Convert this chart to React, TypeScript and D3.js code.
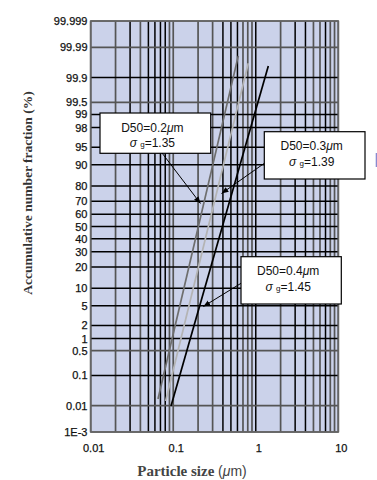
import React from "react";
import * as d3 from "d3";

// ---- data ----
const probTicks = [0.001, 0.01, 0.1, 0.5, 1, 2, 5, 10, 20, 30, 40, 50, 60, 70, 80, 90, 95, 98, 99, 99.5, 99.9, 99.99, 99.999];
const probTickLabels = ["1E-3", "0.01", "0.1", "0.5", "1", "2", "5", "10", "20", "30", "40", "50", "60", "70", "80", "90", "95", "98", "99", "99.5", "99.9", "99.99", "99.999"];
const sizeTicks = [0.01, 0.1, 1, 10];
const sizeTickLabels = ["0.01", "0.1", "1", "10"];
const seriesNames = ["D50=0.2", "D50=0.3", "D50=0.4"];
const seriesSigma = ["1.35", "1.39", "1.45"];
const lowSize = [0.0654, 0.081, 0.094];
const lowPct = [0.0172, 0.0146, 0.0097];
const highSize = [0.614, 0.812, 1.419];
const highPct = [99.98, 99.965, 99.957];

// ---- styles ----
const W = 377, H = 480;
const left = 90.7, right = 338.3, top = 21, bottom = 432;
const lineColors = ["#6e6e6e", "#b4b4b4", "#000000"];
const darkV = new Set([0.03, 0.05, 0.06, 0.07, 0.08, 0.4, 0.5, 0.6, 1, 3, 4, 7]);
const grayH = new Set([0.001, 0.01, 0.5, 99.5, 99.99, 99.999]);

function probit(p: number): number {
  const a = [-3.969683028665376e+01, 2.209460984245205e+02, -2.759285104469687e+02, 1.383577518672690e+02, -3.066479806614716e+01, 2.506628277459239e+00];
  const b = [-5.447609879822406e+01, 1.615858368580409e+02, -1.556989798598866e+02, 6.680131188771972e+01, -1.328068155288572e+01];
  const c = [-7.784894002430293e-03, -3.223964580411365e-01, -2.400758277161838e+00, -2.549732539343734e+00, 4.374664141464968e+00, 2.938163982698783e+00];
  const d = [7.784695709041462e-03, 3.224671290700398e-01, 2.445134137142996e+00, 3.754408661907416e+00];
  const pl = 0.02425;
  if (p < pl) {
    const q = Math.sqrt(-2 * Math.log(p));
    return (((((c[0] * q + c[1]) * q + c[2]) * q + c[3]) * q + c[4]) * q + c[5]) / ((((d[0] * q + d[1]) * q + d[2]) * q + d[3]) * q + 1);
  }
  if (p > 1 - pl) {
    const q = Math.sqrt(-2 * Math.log(1 - p));
    return -(((((c[0] * q + c[1]) * q + c[2]) * q + c[3]) * q + c[4]) * q + c[5]) / ((((d[0] * q + d[1]) * q + d[2]) * q + d[3]) * q + 1);
  }
  const q = p - 0.5, r = q * q;
  return (((((a[0] * r + a[1]) * r + a[2]) * r + a[3]) * r + a[4]) * r + a[5]) * q / (((((b[0] * r + b[1]) * r + b[2]) * r + b[3]) * r + b[4]) * r + 1);
}

const x = d3.scaleLog().domain([0.01, 10]).range([left, right]);
const zScale = d3.scaleLinear().domain([probit(0.00001), probit(0.99999)]).range([bottom, top]);
const y = (pct: number) => zScale(probit(pct / 100));

const vGrid: number[] = [];
for (let e = -2; e < 1; e++) for (let m = 1; m <= 10; m++) vGrid.push(+(m * Math.pow(10, e)).toPrecision(3));
const vGridU = Array.from(new Set(vGrid));

const boxes = [
  { x0: 100, y0: 113, x1: 210.7, y1: 153.3, ax0: 162, ay0: 153, ax1: 200.5, ay1: 203.5 },
  { x0: 264.3, y0: 131.7, x1: 365, y1: 179, ax0: 264.3, ay0: 163.3, ax1: 221.5, ay1: 193.5 },
  { x0: 241, y0: 256.7, x1: 341.3, y1: 304, ax0: 241, ay0: 283.3, ax1: 203.3, ay1: 306.5 },
];

const sans = "Liberation Sans, Arial, sans-serif";
const serif = "Liberation Serif, Times New Roman, serif";

export default function App() {
  const line = d3.line<[number, number]>().x((d) => x(d[0])).y((d) => y(d[1]));
  return (
    <svg width={W} height={H} style={{ position: "absolute", left: 0, top: 0, background: "#fff" }}>
      <defs>
        <marker id="ah" viewBox="0 0 10 10" refX="10" refY="5" markerWidth="7" markerHeight="7" orient="auto" markerUnits="userSpaceOnUse">
          <path d="M0,1 L10,5 L0,9 z" fill="#000" />
        </marker>
      </defs>
      <rect x={left} y={top} width={right - left} height={bottom - top} fill="#cbd2ea" />
      {vGridU.map((v) => (
        <line key={"v" + v} x1={x(v)} x2={x(v)} y1={top} y2={bottom}
          stroke={darkV.has(v) ? "#000" : "#555"} strokeWidth={darkV.has(v) ? 1.5 : 1.7} />
      ))}
      {probTicks.map((p) => (
        <line key={"h" + p} x1={left} x2={right} y1={y(p)} y2={y(p)}
          stroke={grayH.has(p) ? "#555" : "#000"} strokeWidth={grayH.has(p) ? 1.7 : 1.5} />
      ))}
      <rect x={left} y={top} width={right - left} height={bottom - top} fill="none" stroke="#666" strokeWidth={1.6} />
      {probTicks.map((p, i) => (
        <text key={"yl" + i} x={87.5} y={y(p) + 4} textAnchor="end" fontFamily={sans} fontSize={11} fill="#111" stroke="#111" strokeWidth={0.25}>
          {probTickLabels[i]}
        </text>
      ))}
      {sizeTicks.map((s, i) => (
        <text key={"xl" + i} x={x(s) + 3} y={451.5} textAnchor="middle" fontFamily={sans} fontSize={11} fill="#111" stroke="#111" strokeWidth={0.25}>
          {sizeTickLabels[i]}
        </text>
      ))}
      {seriesNames.map((n, i) => (
        <path key={"s" + i} d={line([[lowSize[i], lowPct[i]], [highSize[i], highPct[i]]]) || ""}
          fill="none" stroke={lineColors[i]} strokeWidth={1.7} />
      ))}
      {boxes.map((b, i) => {
        const cx = (b.x0 + b.x1) / 2 - 3;
        return (
          <g key={"b" + i}>
            <rect x={b.x0} y={b.y0} width={b.x1 - b.x0} height={b.y1 - b.y0} fill="#fff" stroke="#000" strokeWidth={1.2} />
            <text x={cx} y={b.y0 + 18.5} textAnchor="middle" fontFamily={sans} fontSize={12} fill="#111">
              {seriesNames[i]}<tspan fontStyle="italic">μ</tspan>m
            </text>
            <text x={cx} y={b.y0 + 34} textAnchor="middle" fontFamily={sans} fontSize={12} fill="#111">
              <tspan fontStyle="italic">σ</tspan> <tspan fontSize={8}>g</tspan>={seriesSigma[i]}
            </text>
            <line x1={b.ax0} y1={b.ay0} x2={b.ax1} y2={b.ay1} stroke="#000" strokeWidth={1} markerEnd="url(#ah)" />
          </g>
        );
      })}
      <rect x={375.7} y={153} width={2.3} height={14} fill="#8a8ad0" />
      <text transform="translate(32,193) rotate(-90)" textAnchor="middle" fontFamily={serif} fontWeight="bold" fontSize={13.5} fill="#333">
        Accumulative number fraction (%)
      </text>
      <text x={192} y={476} textAnchor="middle" fontFamily={serif} fontWeight="bold" fontSize={15} fill="#444">
        Particle size <tspan fontFamily={sans} fontWeight="normal" fontSize={14}>(<tspan fontStyle="italic">μ</tspan>m)</tspan>
      </text>
    </svg>
  );
}
